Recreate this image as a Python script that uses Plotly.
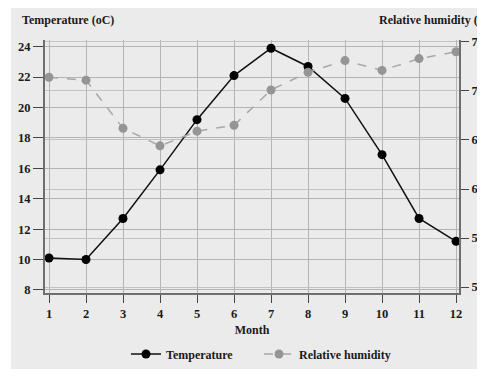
import plotly.graph_objects as go

months = [1, 2, 3, 4, 5, 6, 7, 8, 9, 10, 11, 12]
temperature = [10.1, 10.0, 12.7, 15.9, 19.2, 22.1, 23.9, 22.7, 20.6, 16.9, 12.7, 11.2]
humidity = [71.4, 71.1, 66.2, 64.4, 65.9, 66.5, 70.1, 71.9, 73.1, 72.1, 73.3, 74.0]
temp_ticks = [8, 10, 12, 14, 16, 18, 20, 22, 24]
hum_ticks = [50, 55, 60, 65, 70, 75]

OFF = 8  # page body margin
W, H = 485 - OFF, 369 - OFF
L, R, T, B = 45 - OFF, 485 - 459, 40 - OFF, 369 - 293
pw, ph = W - L - R, H - T - B

serif = "Liberation Serif"
bold = dict(family=serif, size=12.5, color="#1a1a1a", weight="bold")

fig = go.Figure()
fig.add_trace(go.Scatter(
    x=months, y=temperature, name="Temperature", mode="lines+markers",
    line=dict(color="#111111", width=1.5),
    marker=dict(color="#000000", size=9),
))
fig.add_trace(go.Scatter(
    x=months, y=humidity, name="Relative humidity", mode="lines+markers", yaxis="y2",
    line=dict(color="#a8a8a8", width=1.5, dash="dash"),
    marker=dict(color="#959595", size=9),
))

def px_x(p):  # page pixel -> paper
    return (p - OFF - L) / pw

def px_y(p):
    return (H - B - (p - OFF)) / ph

fig.add_shape(type="rect", xref="paper", yref="paper", layer="below",
              x0=px_x(11), x1=px_x(500), y0=px_y(400), y1=px_y(7),
              fillcolor="#ebebeb", line=dict(width=0))

fig.update_layout(
    width=W, height=H,
    margin=dict(l=L, r=R, t=T, b=B, autoexpand=False),
    paper_bgcolor="white", plot_bgcolor="rgba(0,0,0,0)",
    font=dict(family=serif, color="#1a1a1a"),
    xaxis=dict(
        range=[0.892, 12.08], tickvals=months, ticktext=[str(m) for m in months],
        showgrid=True, gridcolor="#b4b4b4", gridwidth=1.2,
        showline=True, linecolor="#6e6e6e", linewidth=2,
        ticks="outside", ticklen=8, tickcolor="#444", tickwidth=1,
        tickfont=bold, zeroline=False, automargin=False,
        title=dict(text="Month", font=dict(family=serif, size=12, color="#1a1a1a", weight="bold"), standoff=6),
    ),
    yaxis=dict(
        range=[7.8, 24.44], tickvals=temp_ticks,
        showgrid=True, gridcolor="#b4b4b4", gridwidth=1.2,
        showline=True, linecolor="#6e6e6e", linewidth=2,
        ticks="outside", ticklen=10, tickcolor="#444", tickwidth=1,
        tickfont=bold, zeroline=False, automargin=False,
    ),
    yaxis2=dict(
        range=[49.39, 75.2], tickvals=hum_ticks, overlaying="y", side="right",
        showgrid=True, gridcolor="#c2c2c2", gridwidth=1.2,
        showline=True, linecolor="#6e6e6e", linewidth=2,
        ticks="outside", ticklen=8, tickcolor="#444", tickwidth=1,
        tickfont=bold, zeroline=False, automargin=False,
    ),
    legend=dict(orientation="h", x=px_x(259), xanchor="center", y=px_y(354), yanchor="middle",
                font=dict(family=serif, size=12, color="#1a1a1a", weight="bold"),
                bgcolor="rgba(0,0,0,0)", entrywidth=88, entrywidthmode="pixels"),
    showlegend=True,
)

fig.add_annotation(text="Temperature (oC)", xref="paper", yref="paper",
                   x=px_x(68), y=px_y(20), xanchor="center", yanchor="middle",
                   showarrow=False, font=dict(family=serif, size=12, color="#1a1a1a", weight="bold"))
fig.add_annotation(text="Relative humidity (%)", xref="paper", yref="paper",
                   x=px_x(377), y=px_y(20), xanchor="left", yanchor="middle",
                   showarrow=False, font=dict(family=serif, size=12, color="#1a1a1a", weight="bold"))

fig.write_html("out.html")
